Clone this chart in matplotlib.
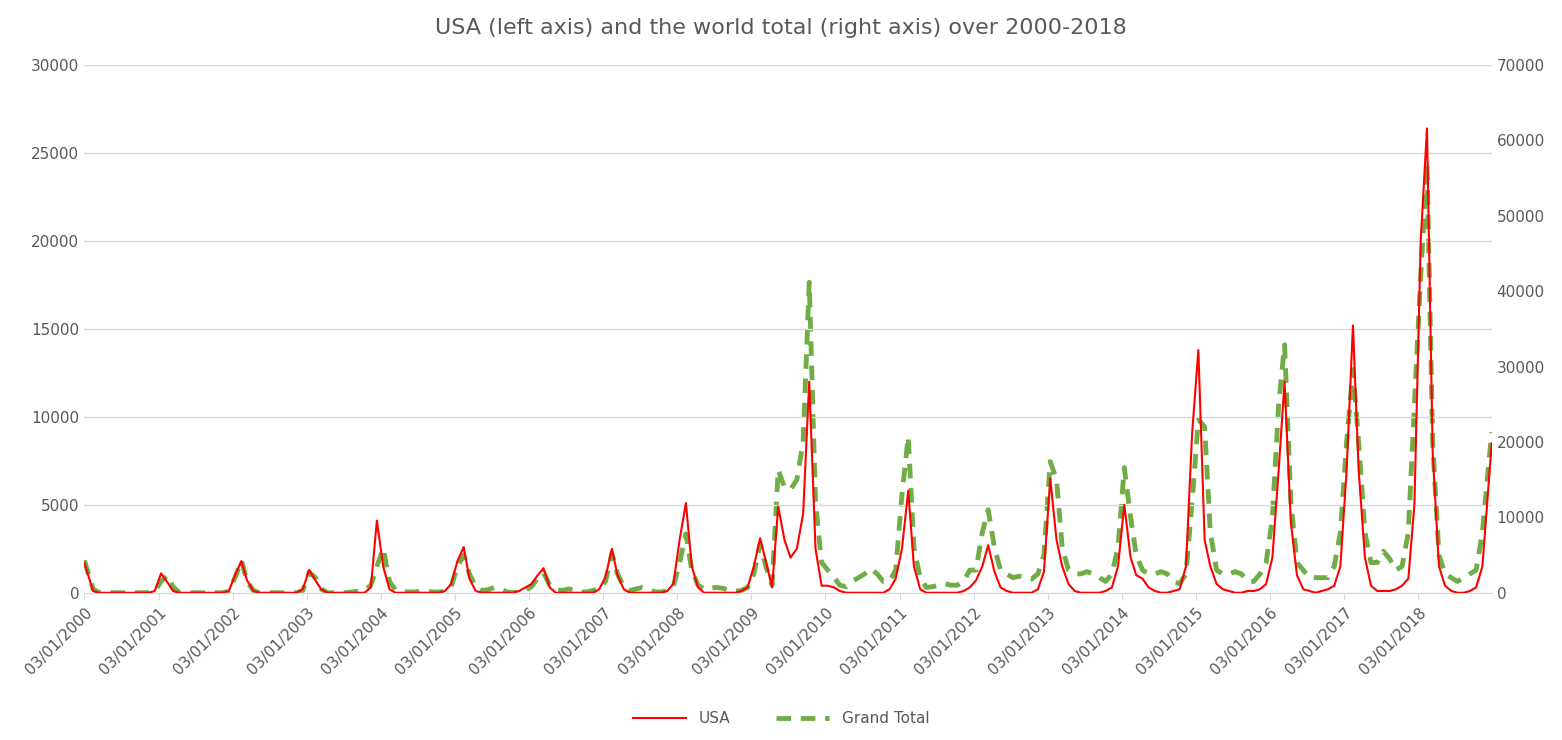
import matplotlib
matplotlib.use("Agg")
import matplotlib.pyplot as plt
import matplotlib.dates as mdates
import numpy as np
import datetime as dt

years = list(range(2000, 2019))
usa = {
2000:[1700,100,0,0,0,0,0,0,0,0,0,100],
2001:[1100,600,100,0,0,0,0,0,0,0,0,100],
2002:[1000,1800,700,100,0,0,0,0,0,0,0,200],
2003:[1300,700,200,0,0,0,0,0,0,0,300,4100],
2004:[1500,200,0,0,0,0,0,0,0,0,100,500],
2005:[1800,2600,800,100,0,0,0,0,0,0,100,300],
2006:[500,1000,1400,300,0,0,0,0,0,0,0,200],
2007:[900,2500,1000,200,0,0,0,0,0,0,100,500],
2008:[3000,5100,1500,300,0,0,0,0,0,0,100,300],
2009:[1500,3100,1800,300,4900,3000,2000,2500,4500,12000,2500,400],
2010:[400,300,100,0,0,0,0,0,0,0,200,800],
2011:[2500,5800,1500,200,0,0,0,0,0,0,100,300],
2012:[700,1500,2700,1200,300,100,0,0,0,0,200,1200],
2013:[6500,3000,1500,500,100,0,0,0,0,100,300,1500],
2014:[5000,2000,1000,800,300,100,0,0,100,200,1500,9000],
2015:[13800,3000,1500,500,200,100,0,0,100,100,200,500],
2016:[2000,7000,12000,4000,1000,200,100,0,100,200,400,1500],
2017:[7000,15200,7000,2000,400,100,100,100,200,400,800,5000],
2018:[20000,26400,8000,1500,400,100,0,0,100,300,1500,8500],
}
grand_total = {
2000:[4300,500,0,0,0,0,0,0,0,0,0,200],
2001:[1500,2300,800,0,0,0,0,0,0,0,0,200],
2002:[2000,4300,1500,300,0,0,0,0,0,0,0,300],
2003:[2700,2000,500,0,0,0,0,100,200,300,1000,3500],
2004:[5900,1500,400,200,100,100,200,200,100,100,200,800],
2005:[3500,5000,2500,800,300,400,700,500,100,0,100,300],
2006:[800,2000,2700,1000,400,300,500,400,100,100,300,500],
2007:[1500,5200,2500,800,300,500,700,500,100,100,300,800],
2008:[4000,7800,3000,1000,500,600,700,600,300,200,300,700],
2009:[2500,6500,3500,1000,16300,14000,13700,15000,20000,41200,12000,4000],
2010:[3000,2000,1000,800,1500,2000,2500,3200,2500,1500,1500,3000],
2011:[13000,20700,6000,2000,700,800,1000,1200,1000,1000,1500,3000],
2012:[3000,8000,11000,6000,3000,2500,2000,2200,2000,1800,2500,5000],
2013:[17400,15000,6000,3000,2500,2500,2800,2500,2000,1500,2500,6000],
2014:[16600,10000,5000,3000,2500,2500,2800,2500,1500,1200,2500,12000],
2015:[23000,22000,8000,3000,2500,2500,2800,2500,1500,1500,2500,4000],
2016:[10000,25000,32900,12000,4000,3000,2000,2000,2000,2000,3500,8000],
2017:[20000,29600,20000,8000,4000,4000,5500,4500,3000,3500,8000,25000],
2018:[42000,57000,20000,5000,2500,2000,1500,2000,2500,3000,8000,21300],
}
tick_labels = [f"03/01/{y}" for y in years]

dates = [dt.date(y, m, 15) for y in years for m in range(1, 13)]
dates[0] = dt.date(2000, 1, 3)
dates[-1] = dt.date(2018, 12, 31)
u = [v for y in years for v in usa[y]]
g = [v for y in years for v in grand_total[y]]

fig = plt.figure(figsize=(15.62, 7.4), dpi=100)
ax = fig.add_axes([0.054, 0.199, 0.901, 0.713])
ax2 = ax.twinx()
ax.plot(dates, u, color="#FF0000", lw=1.5, label="USA", zorder=3)
ax2.plot(dates, g, color="#70AD47", lw=3.5, ls=(0, (3, 2)), label="Grand Total")
ax.set_zorder(ax2.get_zorder() + 1); ax.patch.set_visible(False)
ax.set_ylim(0, 30000); ax2.set_ylim(0, 70000)
ax.set_yticks(range(0, 30001, 5000)); ax2.set_yticks(range(0, 70001, 10000))
ax.set_xlim(dt.date(2000, 1, 3), dt.date(2018, 12, 31))
ax.set_xticks([dt.date(y, 1, 3) for y in years])
ax.set_xticklabels(tick_labels, rotation=45, ha="right", rotation_mode="anchor")
ax.yaxis.grid(True, color="#D9D9D9", lw=1)
for a in (ax, ax2):
    for s in a.spines.values():
        s.set_visible(False)
    a.tick_params(length=0, labelsize=11, colors="#595959")
ax.spines["bottom"].set_visible(True); ax.spines["bottom"].set_color("#D9D9D9")
ax.tick_params(axis="x", length=5, color="#D9D9D9", pad=4)
fig.suptitle("USA (left axis) and the world total (right axis) over 2000-2018", y=0.975, fontsize=16, color="#595959")
h1, l1 = ax.get_legend_handles_labels(); h2, l2 = ax2.get_legend_handles_labels()
fig.legend(h1 + h2, l1 + l2, loc="lower center", ncol=2, frameon=False, fontsize=11,
           labelcolor="#595959", bbox_to_anchor=(0.5, 0.0), handlelength=3.5, columnspacing=3)
fig.savefig("out.png", dpi=100)
